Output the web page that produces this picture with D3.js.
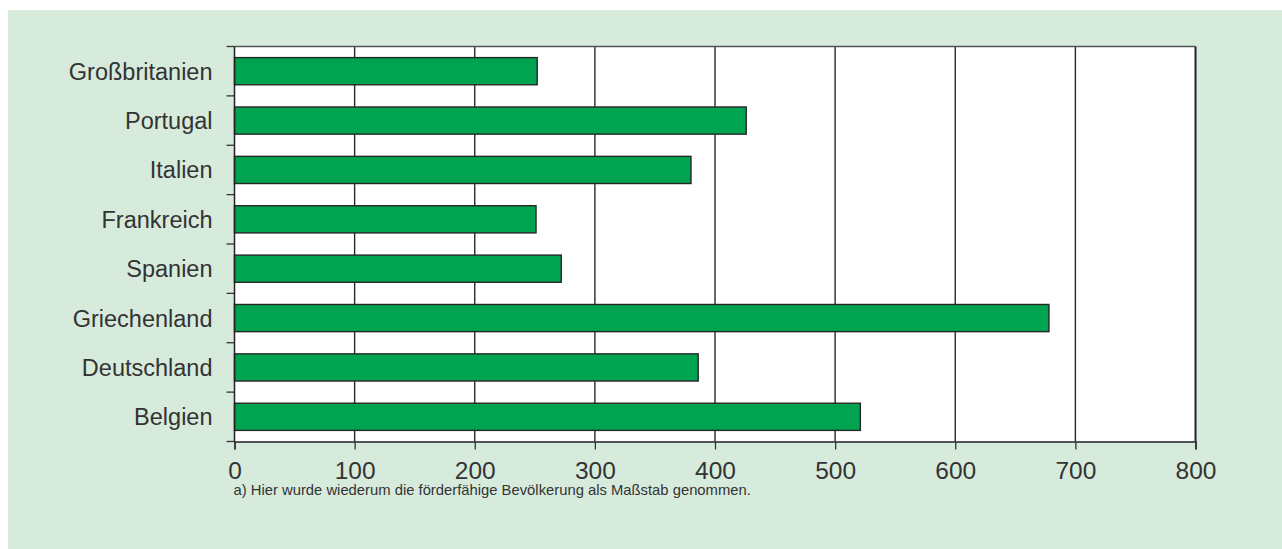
<!DOCTYPE html>
<html>
<head>
<meta charset="utf-8">
<script src="https://cdn.jsdelivr.net/npm/d3@7"></script>
<style>
  html, body { margin: 0; padding: 0; background: #fff; }
  svg { display: block; }
  text { font-family: "Liberation Sans", Arial, sans-serif; fill: #333; }
</style>
</head>
<body>
<div id="chart"></div>
<script>
// values (top to bottom)
const countries = ["Großbritanien", "Portugal", "Italien", "Frankreich", "Spanien", "Griechenland", "Deutschland", "Belgien"];
const values = [252, 426, 380, 251, 272, 678, 386, 521];
const xTicks = [0, 100, 200, 300, 400, 500, 600, 700, 800];
const footnote = "a) Hier wurde wiederum die förderfähige Bevölkerung als Maßstab genommen.";

const w = 1282, h = 549;
const margin = {top: 46.5, right: 86.5, bottom: 107.5, left: 234.5};
const width = w - margin.left - margin.right;
const height = h - margin.top - margin.bottom;

const svg = d3.select("#chart").append("svg")
    .attr("width", w)
    .attr("height", h);

// light green panel
svg.append("rect")
    .attr("x", 8).attr("y", 10)
    .attr("width", w - 8).attr("height", h - 10)
    .attr("fill", "#d7ebdd");

const chart = svg.append("g")
    .attr("transform", "translate(" + margin.left + "," + margin.top + ")");

const x = d3.scaleLinear().domain([0, 800]).range([0, width]);
const y = d3.scaleBand().domain(countries).range([0, height])
    .paddingInner(0.45).paddingOuter(0.225);

chart.append("rect")
    .attr("width", width).attr("height", height)
    .attr("fill", "#fff");

// vertical grid
chart.selectAll(".grid")
    .data(xTicks.slice(1, -1))
    .enter().append("line")
    .attr("class", "grid")
    .attr("x1", d => x(d)).attr("x2", d => x(d))
    .attr("y1", 0).attr("y2", height)
    .attr("stroke", "#2a2a2a")
    .attr("stroke-width", 1.4);

// bars
chart.selectAll(".bar")
    .data(countries)
    .enter().append("rect")
    .attr("class", "bar")
    .attr("x", 0)
    .attr("y", d => y(d))
    .attr("width", (d, i) => x(values[i]))
    .attr("height", y.bandwidth())
    .attr("fill", "#00a450")
    .attr("stroke", "#262626")
    .attr("stroke-width", 1.4);

// frame
chart.append("line")
    .attr("x1", 0).attr("x2", width).attr("y1", 0).attr("y2", 0)
    .attr("stroke", "#555").attr("stroke-width", 1.5);
chart.append("line")
    .attr("x1", width).attr("x2", width).attr("y1", 0).attr("y2", height)
    .attr("stroke", "#222").attr("stroke-width", 2);

// y axis: ticks at band boundaries, labels centred in band
const step = y.step();
const bounds = d3.range(countries.length + 1).map(i => i * step);
chart.append("line")
    .attr("x1", 0).attr("x2", 0).attr("y1", 0).attr("y2", height)
    .attr("stroke", "#222").attr("stroke-width", 1.5);
chart.selectAll(".ytick")
    .data(bounds)
    .enter().append("line")
    .attr("class", "ytick")
    .attr("x1", -8).attr("x2", 0)
    .attr("y1", d => d).attr("y2", d => d)
    .attr("stroke", "#333").attr("stroke-width", 1.3);
chart.selectAll(".ylabel")
    .data(countries)
    .enter().append("text")
    .attr("class", "ylabel")
    .attr("x", -22)
    .attr("y", d => y(d) + y.bandwidth() / 2)
    .attr("dy", "0.36em")
    .attr("text-anchor", "end")
    .style("font-size", "23.5px")
    .text(d => d);

// x axis
const xAxis = chart.append("g")
    .attr("transform", "translate(0," + height + ")")
    .call(d3.axisBottom(x).tickValues(xTicks).tickSize(8).tickPadding(12));
xAxis.select(".domain").attr("stroke", "#222").attr("stroke-width", 1.5);
xAxis.selectAll(".tick line").attr("stroke", "#333").attr("stroke-width", 1.3);
xAxis.selectAll(".tick text")
    .attr("fill", "#333")
    .style("font-family", "'Liberation Sans', Arial, sans-serif")
    .style("font-size", "24.5px");

// footnote
svg.append("text")
    .attr("x", margin.left - 1)
    .attr("y", 495)
    .style("font-size", "14.8px")
    .text(footnote);
</script>
</body>
</html>
